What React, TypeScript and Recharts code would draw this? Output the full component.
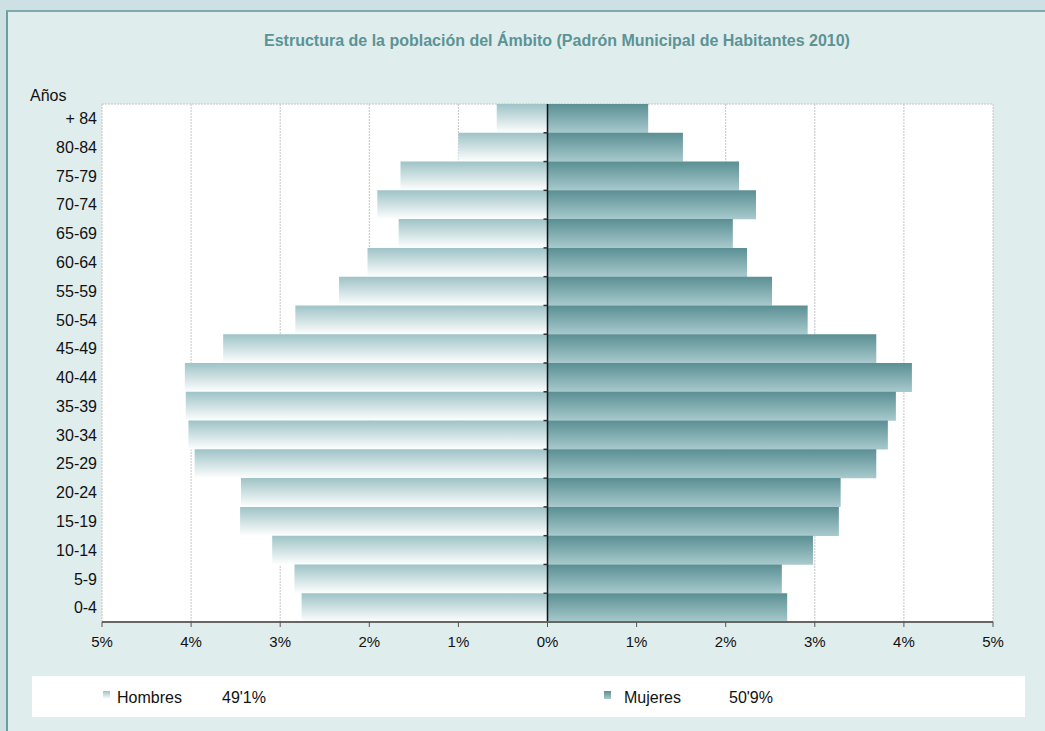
import { BarChart, Bar, XAxis, YAxis, CartesianGrid, ReferenceLine } from "recharts";

const ageGroups = ["+ 84", "80-84", "75-79", "70-74", "65-69", "60-64", "55-59", "50-54", "45-49", "40-44", "35-39", "30-34", "25-29", "20-24", "15-19", "10-14", "5-9", "0-4"];
const hombres = [0.57, 1.0, 1.65, 1.91, 1.67, 2.02, 2.34, 2.83, 3.64, 4.07, 4.06, 4.03, 3.96, 3.44, 3.45, 3.09, 2.84, 2.76];
const mujeres = [1.13, 1.52, 2.15, 2.34, 2.08, 2.24, 2.52, 2.92, 3.69, 4.09, 3.91, 3.82, 3.69, 3.29, 3.27, 2.98, 2.63, 2.69];
const xTicks = [-5, -4, -3, -2, -1, 0, 1, 2, 3, 4, 5];
const seriesNames = ["Hombres", "Mujeres"];
const seriesTotals = ["49'1%", "50'9%"];

const data = ageGroups.map((age, i) => ({ age, hombres: -hombres[i], mujeres: mujeres[i] }));

const font = "'Liberation Sans', Arial, sans-serif";
const title = "Estructura de la población del Ámbito (Padrón Municipal de Habitantes 2010)";

// centre axis line with small marks at each band boundary
function CenterAxis(props: any) {
  const { x1, y1, y2 } = props;
  const n = ageGroups.length;
  const step = (y2 - y1) / n;
  return (
    <g>
      <line x1={x1} x2={x1} y1={y1} y2={y2} stroke="#111" strokeWidth={1.5} />
      {Array.from({ length: n }, (_, i) => (
        <line key={i} x1={x1 - 4} x2={x1} y1={y1 + i * step} y2={y1 + i * step} stroke="#333" strokeWidth={1.5} />
      ))}
    </g>
  );
}

function LegendBox() {
  const markers = ["url(#legH)", "url(#legM)"];
  const left = [71, 572];
  return (
    <div style={{ position: "absolute", left: 32, top: 676, width: 993, height: 41, background: "#fff", fontFamily: font, fontSize: 16, color: "#111" }}>
      <svg width={0} height={0} style={{ position: "absolute" }}>
        <defs>
          <linearGradient id="legH" x1="0" y1="0" x2="0" y2="1">
            <stop offset="0%" stopColor="#9ec3c6" />
            <stop offset="100%" stopColor="#ffffff" />
          </linearGradient>
          <linearGradient id="legM" x1="0" y1="0" x2="0" y2="1">
            <stop offset="0%" stopColor="#5a8f93" />
            <stop offset="100%" stopColor="#a8cacd" />
          </linearGradient>
        </defs>
      </svg>
      {seriesNames.map((name, i) => (
        <div key={name} style={{ position: "absolute", left: left[i], top: 13, display: "flex", alignItems: "center" }}>
          <svg width={8} height={9} style={{ marginRight: i === 0 ? 6 : 12, marginTop: -6 }}>
            <rect width={7} height={8} fill={markers[i]} />
          </svg>
          <span style={{ width: 105 }}>{name}</span>
          <span>{seriesTotals[i]}</span>
        </div>
      ))}
    </div>
  );
}

export default function App() {
  return (
    <div style={{ position: "fixed", left: 0, top: 0, width: 1045, height: 731, background: "#cde0e3", overflow: "hidden" }}>
      <div style={{ position: "absolute", left: 6, top: 10, right: 0, bottom: 0, background: "#e0eded", borderTop: "2px solid #7eabae", borderLeft: "2px solid #6a9fa2" }} />
      <div style={{ position: "absolute", left: 0, top: 32, width: 1114, textAlign: "center", fontFamily: font, fontWeight: "bold", fontSize: 16, color: "#5b9396" }}>{title}</div>
      <div style={{ position: "absolute", left: 30, top: 87, fontFamily: font, fontSize: 16, color: "#111" }}>Años</div>
      <div style={{ position: "absolute", left: 0, top: 0 }}>
        <BarChart
          width={1045}
          height={731}
          data={data}
          layout="vertical"
          stackOffset="sign"
          barCategoryGap={0}
          margin={{ top: 104, right: 52, bottom: 79, left: 42 }}
        >
          <defs>
            <linearGradient id="gradH" x1="0" y1="0" x2="0" y2="1">
              <stop offset="0%" stopColor="#9ec3c6" />
              <stop offset="100%" stopColor="#ffffff" />
            </linearGradient>
            <linearGradient id="gradM" x1="0" y1="0" x2="0" y2="1">
              <stop offset="0%" stopColor="#5a8f93" />
              <stop offset="100%" stopColor="#a8cacd" />
            </linearGradient>
          </defs>
          <CartesianGrid
            fill="#ffffff"
            stroke="#c4c4c4"
            strokeDasharray="2 1"
            horizontalCoordinatesGenerator={({ offset }: any) => [offset.top]}
          />
          <XAxis
            type="number"
            domain={[-5, 5]}
            ticks={xTicks}
            tickFormatter={(v: number) => `${Math.abs(v)}%`}
            tick={{ fill: "#111", fontSize: 15, fontFamily: font }}
            axisLine={{ stroke: "#666", strokeWidth: 2 }}
            tickLine={{ stroke: "#555" }}
            tickSize={5}
            tickMargin={9}
            height={30}
          />
          <YAxis
            type="category"
            dataKey="age"
            width={60}
            axisLine={false}
            tickLine={false}
            tickSize={4}
            tickMargin={1}
            tick={{ fill: "#111", fontSize: 16, fontFamily: font }}
            interval={0}
          />
          <Bar dataKey="hombres" stackId="a" fill="url(#gradH)" isAnimationActive={false} />
          <Bar dataKey="mujeres" stackId="a" fill="url(#gradM)" isAnimationActive={false} />
          <ReferenceLine x={0} shape={<CenterAxis />} />
        </BarChart>
      </div>
      <LegendBox />
    </div>
  );
}
